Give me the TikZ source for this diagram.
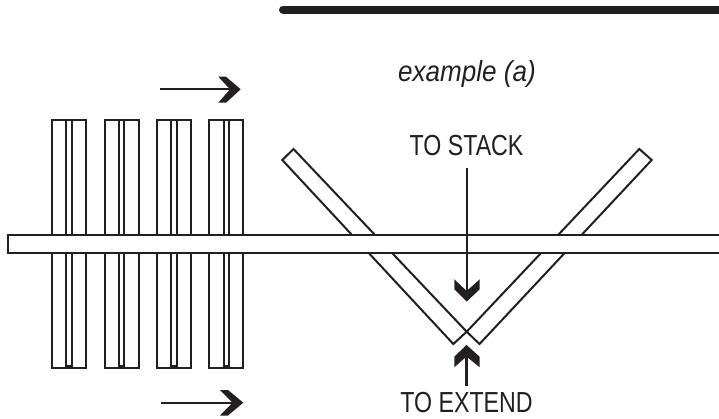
\documentclass[tikz,border=0pt]{standalone}
\usepackage{fontspec}
\setmainfont{Liberation Sans}
\newfontfamily\narrowfont[FakeStretch=0.8]{Liberation Sans}
\newfontfamily\narrowital[FakeStretch=0.9,UprightFont=* Italic]{Liberation Sans}
\definecolor{ink}{HTML}{231F20}
\tikzset{
  outline/.style={draw=ink,line width=2pt,line join=miter},
  thinline/.style={draw=ink,line width=2.2pt},
  label/.style={inner sep=0pt,text=ink,anchor=base,font=\narrowfont\fontsize{29}{29}\selectfont},
  chevron/.style={fill=ink,draw=none},
}
\newcommand{\railbar}[3]{%
  \draw[outline] (#1,120) rectangle (#1+34,368);
  \draw[outline] (#2,120) rectangle (#3,366);
}
\begin{document}
\begin{tikzpicture}[x=1pt,y=-1pt]
\useasboundingbox (0,0) rectangle (719,418);
% heavy rule
\coordinate (ruleA) at (283,9.5);
\coordinate (ruleB) at (725,9.5);
\draw[draw=ink,line width=8pt,line cap=round] (ruleA) -- (ruleB);
% V arms
\draw[outline] (466.7,331.7) -- (293.5,149) -- (282.3,160) -- (453.3,344) -- cycle;
\draw[outline] (466.7,331.7) -- (639.3,149) -- (651.7,160) -- (479.5,344) -- cycle;
% vertical bars
\railbar{52}{65.7}{71.7}
\railbar{105}{119}{124.3}
\railbar{156.5}{171}{176.5}
\railbar{209}{223.5}{229}
% long horizontal bar
\draw[outline,fill=white] (8,235) rectangle (730,253);
% labels
\node[label,font=\narrowital\fontsize{29}{29}\selectfont] (example) at (467,81.5) {example (a)};
\node[label] (tostack) at (466.5,155) {TO STACK};
\node[label] (toextend) at (466.5,412.5) {TO EXTEND};
% top horizontal arrow
\coordinate (t1) at (160,89.3);
\coordinate (t2) at (232,89.3);
\draw[thinline] (t1) -- (t2);
\fill[chevron] (218.3,76.7) -- (226,76.7) -- (240.7,89.3) -- (226,102.7) -- (218.3,102.7) -- (230,89.3) -- cycle;
% bottom horizontal arrow
\coordinate (b1) at (161,402.7);
\coordinate (b2) at (234,402.7);
\draw[thinline] (b1) -- (b2);
\fill[chevron] (220,390) -- (228,390) -- (243.3,402.7) -- (228,415.5) -- (220,415.5) -- (232.5,402.7) -- cycle;
% to stack arrow
\coordinate (s1) at (466.7,168);
\coordinate (s2) at (466.7,293);
\draw[thinline] (s1) -- (s2);
\fill[chevron] (454.3,279.3) -- (466.7,291) -- (479.7,279.3) -- (479.7,289.3) -- (466.7,301.5) -- (454.3,289.3) -- cycle;
% to extend arrow
\coordinate (e1) at (466.5,385.7);
\coordinate (e2) at (466.5,356);
\draw[thinline] (e1) -- (e2);
\fill[chevron] (466.5,345) -- (479.7,356.7) -- (479.7,367.3) -- (466.5,356.5) -- (454.3,367.3) -- (454.3,356.7) -- cycle;
\end{tikzpicture}
\end{document}
